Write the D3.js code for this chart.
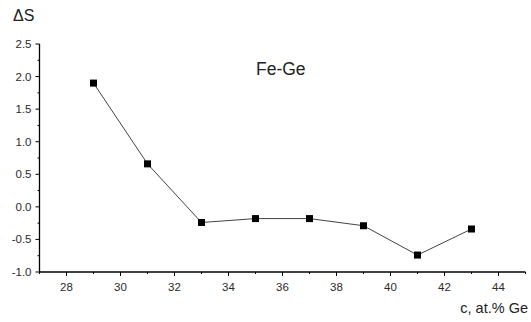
<!DOCTYPE html>
<html><head><meta charset="utf-8">
<script src="https://cdn.jsdelivr.net/npm/d3@7"></script>
<style>body{margin:0;background:#fff}svg{display:block}</style>
</head><body>
<script>
const conc = [29, 31, 33, 35, 37, 39, 41, 43];
const dS = [1.90, 0.66, -0.24, -0.18, -0.18, -0.29, -0.74, -0.34];
const xTicks = [28, 30, 32, 34, 36, 38, 40, 42, 44];
const yTicks = [-1.0, -0.5, 0.0, 0.5, 1.0, 1.5, 2.0, 2.5];

const W = 531, H = 322;
const svg = d3.select("body").append("svg").attr("width", W).attr("height", H);
const x = d3.scaleLinear().domain([27, 45]).range([39.5, 525.5]);
const y = d3.scaleLinear().domain([-1, 2.5]).range([272, 44]);

const font = "Liberation Sans, Arial, sans-serif";

const xMinor = d3.range(27, 45.01, 1).filter(v => !xTicks.includes(v));
const yMinor = d3.range(-0.75, 2.5, 0.5);

const gx = svg.append("g").attr("transform", "translate(0,272)");
gx.append("line").attr("x1", x(27)).attr("x2", x(45)).attr("stroke", "#000").attr("stroke-width", 1.3);
gx.selectAll(".maj").data(xTicks).join("line").attr("class","maj").attr("x1", d => x(d)).attr("x2", d => x(d)).attr("y1", 0).attr("y2", 4).attr("stroke", "#000");
gx.selectAll(".min").data(xMinor).join("line").attr("class","min").attr("x1", d => x(d)).attr("x2", d => x(d)).attr("y1", 0).attr("y2", 2).attr("stroke", "#000");
gx.selectAll("text").data(xTicks).join("text").attr("x", d => x(d)).attr("y", 19)
  .attr("text-anchor", "middle").attr("font-family", font).attr("font-size", 11.5).attr("fill", "#2a2a2a").text(d => d);

const gy = svg.append("g").attr("transform", "translate(39.5,0)");
gy.append("line").attr("y1", y(-1)).attr("y2", y(2.5)).attr("stroke", "#000").attr("stroke-width", 1.3);
gy.selectAll(".maj").data(yTicks).join("line").attr("class","maj").attr("y1", d => y(d)).attr("y2", d => y(d)).attr("x1", 0).attr("x2", -4).attr("stroke", "#000");
gy.selectAll(".min").data(yMinor).join("line").attr("class","min").attr("y1", d => y(d)).attr("y2", d => y(d)).attr("x1", 0).attr("x2", -2).attr("stroke", "#000");
gy.selectAll("text").data(yTicks).join("text").attr("x", -8).attr("y", d => y(d) + 4)
  .attr("text-anchor", "end").attr("font-family", font).attr("font-size", 11.5).attr("fill", "#2a2a2a").text(d => d.toFixed(1));

const pts = conc.map((c, i) => [c, dS[i]]);
svg.append("path").datum(pts).attr("fill", "none").attr("stroke", "#444").attr("stroke-width", 1)
  .attr("d", d3.line().x(d => x(d[0])).y(d => y(d[1])));
svg.selectAll("rect.pt").data(pts).join("rect").attr("class", "pt")
  .attr("x", d => x(d[0]) - 3.5).attr("y", d => y(d[1]) - 3.5).attr("width", 7).attr("height", 7).attr("fill", "#000");

svg.append("text").attr("x", 13).attr("y", 21).attr("font-family", font).attr("font-size", 16).attr("fill", "#222").text("ΔS");
svg.append("text").attr("x", 256).attr("y", 75).attr("font-family", font).attr("font-size", 17.5).attr("fill", "#222").text("Fe-Ge");
svg.append("text").attr("x", 528).attr("y", 313).attr("text-anchor", "end").attr("font-family", font).attr("font-size", 14.5).attr("fill", "#222").text("c, at.% Ge");
</script>
</body></html>
